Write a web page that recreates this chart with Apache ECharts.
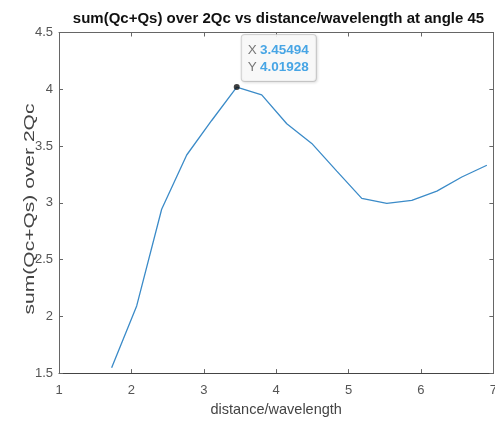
<!DOCTYPE html>
<html>
<head>
<meta charset="utf-8">
<script src="https://cdn.jsdelivr.net/npm/echarts@6/dist/echarts.min.js"></script>
<style>
  html, body { margin: 0; padding: 0; background: #fff; overflow: hidden; }
  #chart { width: 500px; height: 422px; }
</style>
</head>
<body>
<div id="chart"></div>
<script>
// distance/wavelength samples and the normalised sum for each
const distance = [1.727, 2.073, 2.418, 2.764, 3.109, 3.45494, 3.800, 4.146, 4.491, 4.837, 5.182, 5.528, 5.873, 6.219, 6.564, 6.910];
const ratio    = [1.548, 2.092, 2.943, 3.421, 3.725, 4.01928, 3.951, 3.696, 3.523, 3.279, 3.039, 2.995, 3.021, 3.103, 3.227, 3.331];

// highlighted sample (data tip)
const tipX = 3.45494;
const tipY = 4.01928;

const xTicks = [1, 7, 1];      // min, max, step
const yTicks = [1.5, 4.5, 0.5];

const titleText = 'sum(Qc+Qs) over 2Qc vs distance/wavelength at angle 45';
const xName = 'distance/wavelength';
const yName = 'sum(Qc+Qs) over 2Qc';

const FONT = '"Liberation Sans", Arial, Helvetica, sans-serif';
const chart = echarts.init(document.getElementById('chart'), null, { renderer: 'canvas' });

const boxAxis = (extra) => Object.assign({
  type: 'value',
  axisLine: { show: true, lineStyle: { color: '#666', width: 1 } },
  axisTick: { show: true, inside: true, length: 4, lineStyle: { color: '#666' } },
  splitLine: { show: false },
  axisLabel: { show: false }
}, extra);

chart.setOption({
  animation: false,
  backgroundColor: '#fff',
  title: {
    text: titleText,
    left: 278.5,
    textAlign: 'center',
    top: 11,
    padding: 0,
    textStyle: { fontFamily: FONT, fontSize: 15, fontWeight: 'bold', color: '#111' }
  },
  grid: { left: 59, right: 2, top: 32.5, bottom: 44.3, containLabel: false },
  xAxis: [
    boxAxis({
      position: 'bottom',
      min: xTicks[0], max: xTicks[1], interval: xTicks[2],
      axisLine: { show: true, lineStyle: { color: '#444', width: 1 } },
      axisLabel: { show: true, margin: 11, color: '#555', fontFamily: FONT, fontSize: 13 },
      name: xName,
      nameLocation: 'middle',
      nameGap: 28,
      nameTextStyle: { fontFamily: FONT, fontSize: 14.5, color: '#444' }
    }),
    boxAxis({ position: 'top', min: xTicks[0], max: xTicks[1], interval: xTicks[2] })
  ],
  yAxis: [
    boxAxis({
      position: 'left',
      min: yTicks[0], max: yTicks[1], interval: yTicks[2],
      axisLabel: { show: true, margin: 6, color: '#555', fontFamily: FONT, fontSize: 13 }
    }),
    boxAxis({ position: 'right', min: yTicks[0], max: yTicks[1], interval: yTicks[2] })
  ],
  graphic: [
    {
      // y-axis title, drawn as a rotated text element
      type: 'text',
      x: 30,
      y: 209,
      rotation: Math.PI / 2,
      scaleX: 1.45,
      style: {
        text: yName,
        font: '14.5px ' + FONT,
        fill: '#444',
        align: 'center',
        verticalAlign: 'middle'
      }
    }
  ],
  series: [
    {
      type: 'line',
      data: distance.map((d, i) => [d, ratio[i]]),
      showSymbol: false,
      symbol: 'none',
      lineStyle: { color: '#3b8bc8', width: 1.3 },
      z: 2
    },
    {
      type: 'scatter',
      data: [[tipX, tipY]],
      symbol: 'circle',
      symbolSize: 6,
      itemStyle: { color: '#111' },
      z: 3,
      label: {
        show: true,
        position: [8, -49],
        formatter: () => '{k|X} {v|' + tipX.toFixed(5) + '}\n{k|Y} {v|' + tipY.toFixed(5) + '}',
        backgroundColor: '#fdfdfd',
        borderColor: '#c9c9c9',
        borderWidth: 1,
        borderRadius: 3,
        padding: [7, 7, 5, 6],
        shadowColor: 'rgba(0,0,0,0.12)',
        shadowBlur: 3,
        shadowOffsetX: 1,
        shadowOffsetY: 1,
        rich: {
          k: { fontFamily: FONT, fontSize: 13.5, color: '#555', lineHeight: 17 },
          v: { fontFamily: FONT, fontSize: 13.5, fontWeight: 'bold', color: '#1a90e0', lineHeight: 17 }
        }
      }
    }
  ]
});
</script>
</body>
</html>
